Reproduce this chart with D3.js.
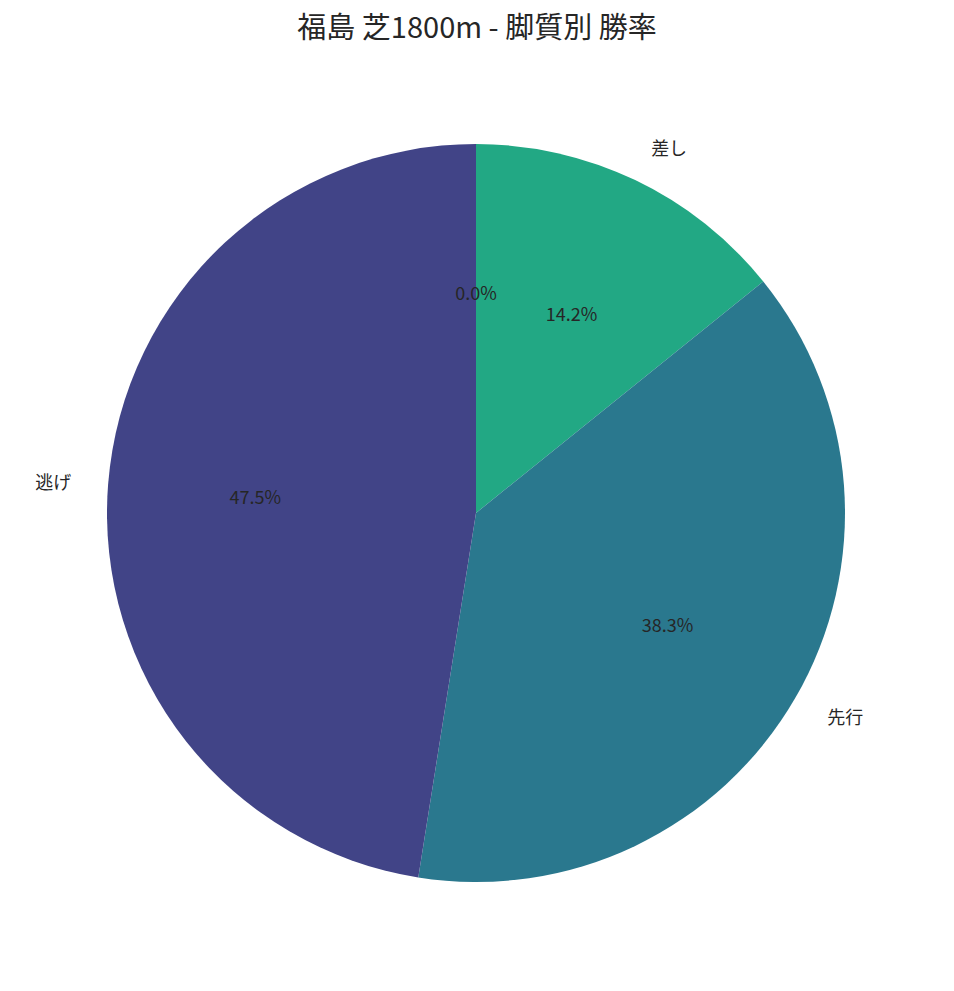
<!DOCTYPE html>
<html>
<head>
<meta charset="utf-8">
<script src="https://cdn.jsdelivr.net/npm/d3@7"></script>
<style>
  body { margin: 0; background: #fff; }
  text { font-family: "Noto Sans CJK JP", "DejaVu Sans", sans-serif; fill: #262626; }
</style>
</head>
<body>
<svg id="chart" width="954" height="991"></svg>
<script>
// slice data, clockwise from 12 o'clock
const categories = ['差し', '先行', '逃げ', ''];
const winRates = [14.2, 38.3, 47.5, 0.0];
const colors = ['#22a884', '#2a788e', '#414487', '#7ad151'];

const svg = d3.select('#chart');
const cx = 476, cy = 513, r = 369;

svg.append('text')
  .attr('x', 477).attr('y', 38)
  .attr('text-anchor', 'middle')
  .style('font-size', '29px')
  .text('福島 芝1800m - 脚質別 勝率');

const data = categories.map((c, i) => ({ name: c, value: winRates[i], color: colors[i] }));
const pie = d3.pie().value(d => d.value).sort(null);
const arcs = pie(data);
const arc = d3.arc().innerRadius(0).outerRadius(r);

const g = svg.append('g').attr('transform', `translate(${cx},${cy})`);

g.selectAll('path')
  .data(arcs)
  .join('path')
  .attr('d', arc)
  .attr('fill', d => d.data.color);

// angle helper: d3 angles are clockwise from top
const mid = d => (d.startAngle + d.endAngle) / 2;

// percentage labels at 0.6r
g.selectAll('.pct')
  .data(arcs)
  .join('text')
  .attr('class', 'pct')
  .attr('x', d => Math.sin(mid(d)) * r * 0.6)
  .attr('y', d => -Math.cos(mid(d)) * r * 0.6)
  .attr('text-anchor', 'middle')
  .attr('dominant-baseline', 'central')
  .style('font-size', '18px')
  .text(d => d.data.value.toFixed(1) + '%');

// category labels at 1.1r
g.selectAll('.cat')
  .data(arcs)
  .join('text')
  .attr('class', 'cat')
  .attr('x', d => Math.sin(mid(d)) * r * 1.1)
  .attr('y', d => -Math.cos(mid(d)) * r * 1.1)
  .attr('text-anchor', d => Math.sin(mid(d)) > 0.001 ? 'start' : (Math.sin(mid(d)) < -0.001 ? 'end' : 'middle'))
  .attr('dominant-baseline', 'central')
  .style('font-size', '18px')
  .text(d => d.data.name);
</script>
</body>
</html>
